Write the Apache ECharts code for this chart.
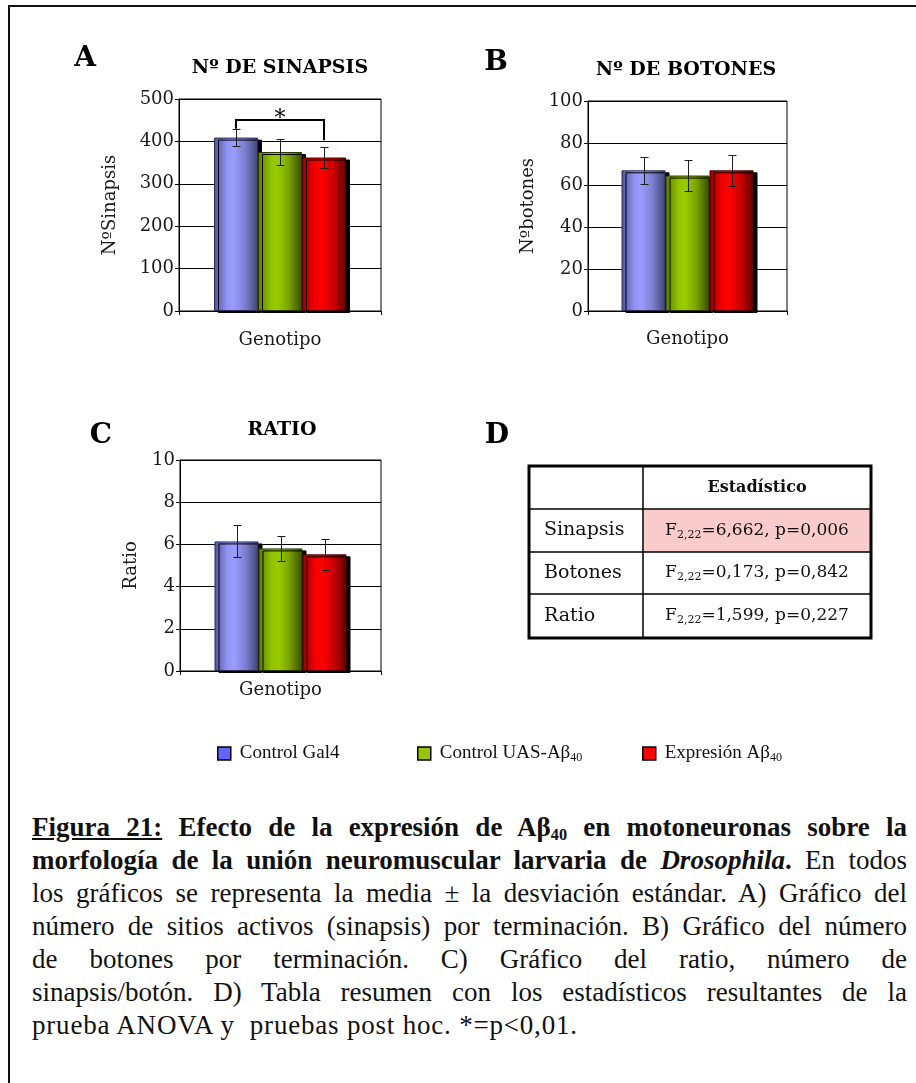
<!DOCTYPE html>
<html>
<head>
<meta charset="utf-8">
<script src="https://cdn.jsdelivr.net/npm/echarts@6/dist/echarts.min.js"></script>
<style>
  html, body { margin: 0; padding: 0; background: #fff; overflow: hidden; }
  #wrap { position: relative; width: 916px; height: 1083px; overflow: hidden; }
  #frame { position: absolute; left: 8px; top: 5px; width: 960px; height: 1200px;
           border-left: 2px solid #111; border-top: 2px solid #111; }
  #chart { position: absolute; left: 0; top: 0; width: 916px; height: 800px; }
  #caption { position: absolute; left: 32px; top: 811px; width: 875px;
             font-family: "Liberation Serif", serif; font-size: 27px; line-height: 33px; color: #111; }
  #caption .ln { text-align: justify; text-align-last: justify; }
  #caption .last { text-align: left; white-space: pre; letter-spacing: 0.8px; }
  #caption .sub { font-size: 0.6em; vertical-align: -0.22em; line-height: 0; }
</style>
</head>
<body>
<div id="wrap">
  <div id="frame"></div>
  <div id="chart"></div>
  <div id="caption">
    <div class="ln"><b><u>Figura 21:</u> Efecto de la expresión de Aβ<span class="sub">40</span> en motoneuronas sobre la</b></div>
    <div class="ln"><b>morfología de la unión neuromuscular larvaria de <i>Drosophila</i>.</b> En todos</div>
    <div class="ln">los gráficos se representa la media ± la desviación estándar. A) Gráfico del</div>
    <div class="ln">número de sitios activos (sinapsis) por terminación. B) Gráfico del número</div>
    <div class="ln">de botones por terminación. C) Gráfico del ratio, número de</div>
    <div class="ln">sinapsis/botón. D) Tabla resumen con los estadísticos resultantes de la</div>
    <div class="last">prueba ANOVA y  pruebas post hoc. *=p&lt;0,01.</div>
  </div>
</div>
<script>
// ---- data ----
const genotypes = ['Control Gal4', 'Control UAS-Aβ40', 'Expresión Aβ40'];
const categories = ['Genotipo'];

const sinapsisMean = [409, 375, 362];
const sinapsisSD = [20, 30, 24];
const botonesMean = [67, 64.5, 67];
const botonesSD = [6.5, 7.4, 7.4];
const ratioMean = [6.14, 5.81, 5.53];
const ratioSD = [0.76, 0.58, 0.72];

// axis ranges: [min, max, interval]
const sinapsisAxis = [0, 500, 100];
const botonesAxis = [0, 100, 20];
const ratioAxis = [0, 10, 2];

// significance bracket between Control Gal4 and Expresión Aβ40
const sigPair = [0, 2];
const sigLevels = [450, 430, 403];   // bracket height, left leg end, right leg end
const sigMark = '*';

// ANOVA summary
const statRows = ['Sinapsis', 'Botones', 'Ratio'];
const statDf = '2,22';
const statF = ['6,662', '0,173', '1,599'];
const statP = ['0,006', '0,842', '0,227'];
const statHighlight = [true, false, false];

// ---- styling ----
const SERIF = '"DejaVu Serif", serif';
const BAR_W = 44;

const barGradients = [
  [[0, '#50549a'], [0.3, '#9294f4'], [0.45, '#9a9cff'], [0.7, '#7d80d0'], [1, '#404374']],
  [[0, '#5a7800'], [0.3, '#93c400'], [0.45, '#99cc00'], [0.7, '#7aa300'], [1, '#364c00']],
  [[0, '#9a0000'], [0.3, '#f50000'], [0.45, '#ff0000'], [0.7, '#cc0000'], [1, '#620000']]
];
const barBorders = ['#2c2d58', '#2a3800', '#480000'];
const legendColors = ['#6464ff', '#99c400', '#ff0000'];

function gradient(stops) {
  return new echarts.graphic.LinearGradient(0, 0, 1, 0,
    stops.map(s => ({ offset: s[0], color: s[1] })));
}

const panels = [
  { mean: sinapsisMean, sd: sinapsisSD, axis: sinapsisAxis, yName: 'NºSinapsis', nameGap: 60,
    grid: { left: 179, top: 99, width: 202, height: 212 }, labelMargin: 20 },
  { mean: botonesMean, sd: botonesSD, axis: botonesAxis, yName: 'Nºbotones', nameGap: 51,
    grid: { left: 588, top: 101, width: 199, height: 210 }, labelMargin: 19 },
  { mean: ratioMean, sd: ratioSD, axis: ratioAxis, yName: 'Ratio', nameGap: 40,
    grid: { left: 180, top: 460, width: 201, height: 211 }, labelMargin: 10 }
];

function errorBars(params, api) {
  const idx = api.value(1), m = api.value(2), s = api.value(3);
  const c = api.coord([0, m]);
  const x = Math.round(c[0] + (idx - 1) * BAR_W) + 0.5;
  const yTop = Math.round(api.coord([0, m + s])[1]) + 0.5;
  const yBot = Math.round(api.coord([0, m - s])[1]) + 0.5;
  const cap = 4;
  const st = { stroke: '#1e1e1e', lineWidth: 1 };
  return {
    type: 'group',
    children: [
      { type: 'line', shape: { x1: x, y1: yTop, x2: x, y2: yBot }, style: st },
      { type: 'line', shape: { x1: x - cap, y1: yTop, x2: x + cap, y2: yTop }, style: st },
      { type: 'line', shape: { x1: x - cap, y1: yBot, x2: x + cap, y2: yBot }, style: st }
    ]
  };
}

function bracket(params, api) {
  const a = api.value(1), b = api.value(2);
  const top = api.value(3), endA = api.value(4), endB = api.value(5);
  const c = api.coord([0, top]);
  const xa = Math.round(c[0] + (a - 1) * BAR_W);
  const xb = Math.round(c[0] + (b - 1) * BAR_W);
  const yTop = Math.round(c[1]);
  const yA = api.coord([0, endA])[1];
  const yB = api.coord([0, endB])[1];
  return {
    type: 'group',
    children: [
      { type: 'polyline', shape: { points: [[xa, yA], [xa, yTop], [xb, yTop], [xb, yB]] },
        style: { stroke: '#000', lineWidth: 2, fill: null } },
      { type: 'text', style: { text: sigMark, x: (xa + xb) / 2, y: yTop - 1, align: 'center',
        verticalAlign: 'middle', font: '22px ' + SERIF, fill: '#000' } }
    ]
  };
}

const grids = [], xAxes = [], yAxes = [], series = [];
panels.forEach((p, c) => {
  grids.push(Object.assign({ show: true, borderColor: '#000', borderWidth: 1, backgroundColor: 'transparent' }, p.grid));
  xAxes.push({
    type: 'category', gridIndex: c, data: categories,
    axisLine: { lineStyle: { color: '#000', width: 1 } },
    axisTick: { show: true, length: 4, lineStyle: { color: '#000' } },
    axisLabel: { margin: p.labelMargin, fontFamily: SERIF, fontSize: 18, color: '#1a1a1a' }
  });
  yAxes.push({
    type: 'value', gridIndex: c, min: p.axis[0], max: p.axis[1], interval: p.axis[2],
    name: p.yName, nameLocation: 'middle', nameGap: p.nameGap, nameRotate: 90,
    nameTextStyle: { fontFamily: SERIF, fontSize: 18, color: '#1a1a1a' },
    axisLine: { show: true, lineStyle: { color: '#000', width: 1 } },
    axisTick: { show: true, length: 4, lineStyle: { color: '#000' } },
    axisLabel: { margin: 5, fontFamily: SERIF, fontSize: 18, color: '#1a1a1a' },
    splitLine: { show: true, lineStyle: { color: '#000', width: 1 } }
  });
  genotypes.forEach((g, i) => {
    series.push({
      type: 'bar', name: g, xAxisIndex: c, yAxisIndex: c,
      data: [p.mean[i]], barWidth: BAR_W, barGap: '0%',
      itemStyle: {
        color: gradient(barGradients[i]), borderColor: barBorders[i], borderWidth: 1,
        shadowColor: '#000', shadowOffsetX: 4, shadowOffsetY: 2, shadowBlur: 0
      },
      emphasis: { disabled: true }, silent: true
    });
  });
  series.push({
    type: 'custom', xAxisIndex: c, yAxisIndex: c, silent: true, z: 5,
    data: genotypes.map((g, i) => [0, i, p.mean[i], p.sd[i]]),
    encode: { x: 0, y: 2 },
    renderItem: errorBars
  });
});
series.push({
  type: 'custom', xAxisIndex: 0, yAxisIndex: 0, silent: true, z: 6,
  data: [[0, sigPair[0], sigPair[1], sigLevels[0], sigLevels[1], sigLevels[2]]],
  encode: { x: 0, y: 3 },
  renderItem: bracket
});

// legend: one component per genotype
const legendLeft = [217, 417, 642];
function legendLabel(name) {
  return name.endsWith('40') ? '{t|' + name.slice(0, -2) + '}{s|40}' : '{t|' + name + '}';
}
const legends = genotypes.map((g, i) => ({
  data: [{ name: g, itemStyle: { color: legendColors[i], borderColor: '#000', borderWidth: 1.5 } }],
  left: legendLeft[i], top: 744, padding: 0, icon: 'rect', itemWidth: 13, itemHeight: 13,
  selectedMode: false, formatter: legendLabel,
  textStyle: {
    rich: {
      t: { fontFamily: '"Liberation Serif", serif', fontSize: 19, color: '#111', lineHeight: 20, padding: [0, 0, 0, 4] },
      s: { fontFamily: '"Liberation Serif", serif', fontSize: 12, color: '#111', lineHeight: 12, verticalAlign: 'bottom' }
    }
  }
}));

// headings and panel letters
const headings = [
  { t: 'A', x: 85, y: 58.5, f: 'bold 28px ' + SERIF },
  { t: 'B', x: 496, y: 62.5, f: 'bold 28px ' + SERIF },
  { t: 'C', x: 101, y: 436, f: 'bold 28px ' + SERIF },
  { t: 'D', x: 497, y: 436, f: 'bold 28px ' + SERIF },
  { t: 'Nº DE SINAPSIS', x: 280, y: 68.5, f: 'bold 19px ' + SERIF },
  { t: 'Nº DE BOTONES', x: 686, y: 70.5, f: 'bold 19px ' + SERIF },
  { t: 'RATIO', x: 282, y: 430, f: 'bold 19px ' + SERIF }
];
const graphics = headings.map(h => ({
  type: 'text', style: { text: h.t, x: h.x, y: h.y, align: 'center', verticalAlign: 'middle', font: h.f, fill: '#000' }
}));

// ANOVA table
const tb = { x0: 529, x1: 871, xc: 643, rows: [466, 509, 552, 594, 638] };
const tableEls = [];
statRows.forEach((r, i) => {
  if (statHighlight[i]) {
    tableEls.push({ type: 'rect', shape: { x: tb.xc, y: tb.rows[i + 1], width: tb.x1 - tb.xc, height: tb.rows[i + 2] - tb.rows[i + 1] },
      style: { fill: '#f9cbcb' } });
  }
});
tb.rows.slice(1, -1).forEach(y => {
  tableEls.push({ type: 'line', shape: { x1: tb.x0, y1: y, x2: tb.x1, y2: y }, style: { stroke: '#000', lineWidth: 1.5 } });
});
tableEls.push({ type: 'line', shape: { x1: tb.xc, y1: tb.rows[0], x2: tb.xc, y2: tb.rows[4] }, style: { stroke: '#000', lineWidth: 1.5 } });
tableEls.push({ type: 'rect', shape: { x: tb.x0, y: tb.rows[0], width: tb.x1 - tb.x0, height: tb.rows[4] - tb.rows[0] },
  style: { fill: null, stroke: '#000', lineWidth: 3 } });
const colMid = (tb.xc + tb.x1) / 2;
tableEls.push({ type: 'text', style: { text: 'Estadístico', x: colMid, y: (tb.rows[0] + tb.rows[1]) / 2, align: 'center', verticalAlign: 'middle',
  font: 'bold 16px ' + SERIF, fill: '#111' } });
statRows.forEach((r, i) => {
  const yc = (tb.rows[i + 1] + tb.rows[i + 2]) / 2;
  tableEls.push({ type: 'text', style: { text: r, x: tb.x0 + 15, y: yc, align: 'left', verticalAlign: 'middle',
    font: '19px ' + SERIF, fill: '#111' } });
  tableEls.push({ type: 'text', style: {
    text: '{v|F}{s|' + statDf + '}{v|=' + statF[i] + ', p=' + statP[i] + '}',
    x: colMid, y: yc, align: 'center', verticalAlign: 'middle',
    rich: {
      v: { fontFamily: SERIF, fontSize: 17, lineHeight: 20, fill: '#111' },
      s: { fontFamily: SERIF, fontSize: 11, lineHeight: 11, verticalAlign: 'bottom', fill: '#111' }
    }
  } });
});
graphics.push({ type: 'group', children: tableEls });

const chart = echarts.init(document.getElementById('chart'), null, { renderer: 'canvas' });
chart.setOption({
  animation: false,
  backgroundColor: 'transparent',
  grid: grids,
  xAxis: xAxes,
  yAxis: yAxes,
  legend: legends,
  graphic: graphics,
  series: series
});
</script>
</body>
</html>
